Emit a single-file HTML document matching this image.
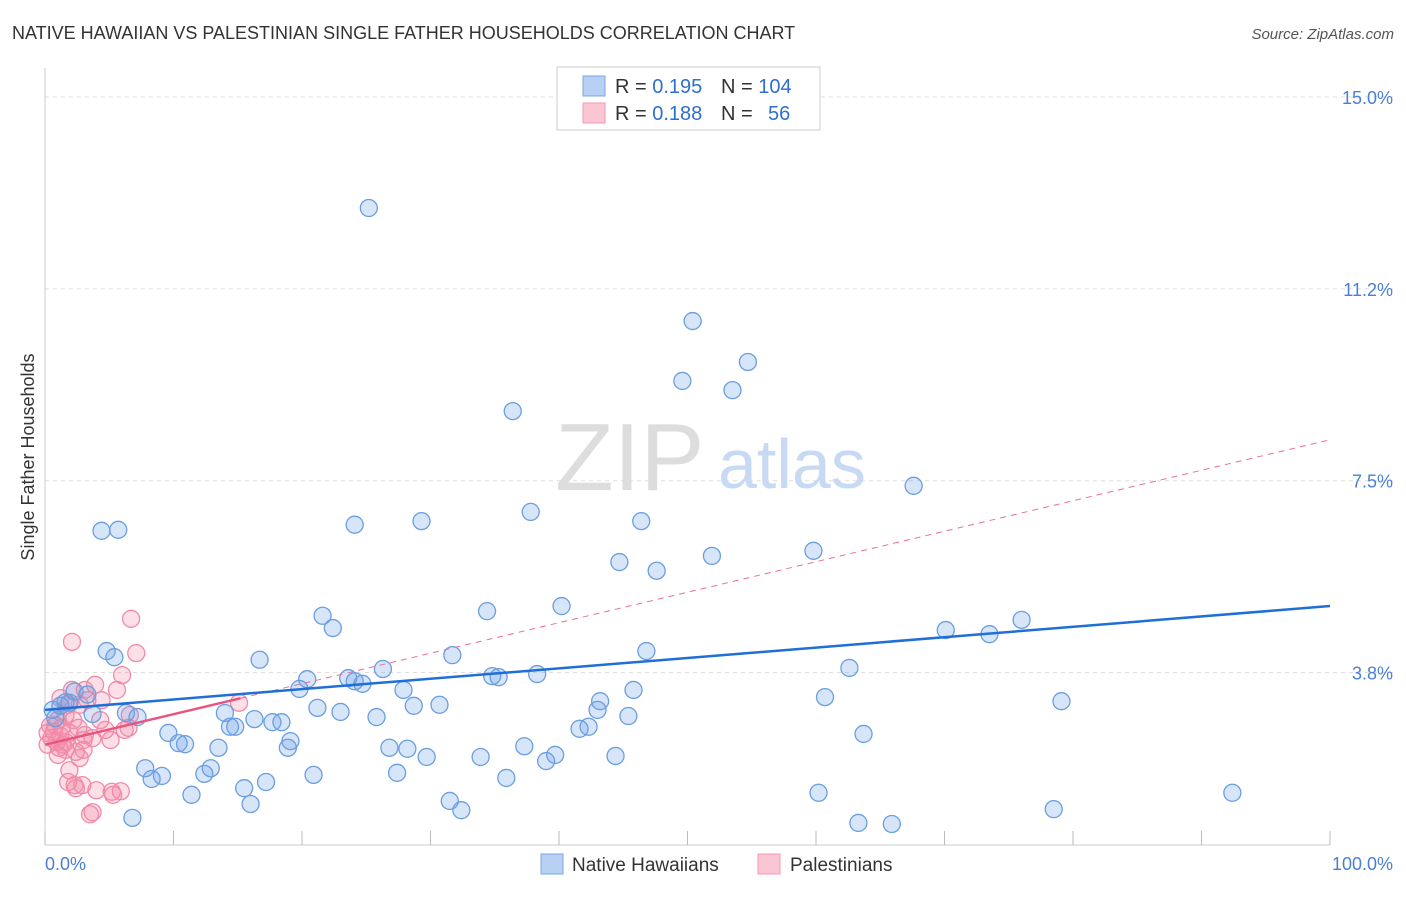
<!DOCTYPE html>
<html><head><meta charset="utf-8"><style>
body{margin:0;background:#fff;font-family:"Liberation Sans",sans-serif;}
svg text{font-family:"Liberation Sans",sans-serif;}
</style></head><body>
<svg id="chart" width="1406" height="892" viewBox="0 0 1406 892">
<text x="12" y="39" font-size="18" fill="#333">NATIVE HAWAIIAN VS PALESTINIAN SINGLE FATHER HOUSEHOLDS CORRELATION CHART</text>
<text x="1394" y="39" font-size="15" fill="#555" font-style="italic" text-anchor="end">Source: ZipAtlas.com</text>
<text transform="translate(34,457) rotate(-90)" font-size="18" fill="#333" text-anchor="middle">Single Father Households</text>
<g id="grid"></g>
<g><text x="555" y="490" font-size="96" fill="#ddd" font-family="Liberation Serif">ZIP</text><text x="718" y="488" font-size="70" fill="#c8daf3">atlas</text></g>
<line x1="45" y1="68" x2="45" y2="845" stroke="#ccc"/>
<line x1="45" y1="845" x2="1330" y2="845" stroke="#ccc"/>
<g id="xticks"></g>
<g id="ylabels"></g>
<text x="45" y="870" font-size="18" fill="#4a7fd4">0.0%</text>
<text x="1393" y="870" font-size="18" fill="#4a7fd4" text-anchor="end">100.0%</text>
<g id="pts"></g>
<g id="lines"></g>
<g>
<rect x="557" y="67" width="263" height="63" fill="#fff" stroke="#ccc"/>
<rect x="583" y="76" width="22" height="20" fill="#b8d0f4" stroke="#7ba5e3"/>
<rect x="583" y="103" width="22" height="20" fill="#fbc6d4" stroke="#f29ab4"/>
<text x="615" y="93" font-size="20" fill="#333">R = <tspan fill="#2f6fd0">0.195</tspan></text>
<text x="721" y="93" font-size="20" fill="#333">N = <tspan fill="#2f6fd0">104</tspan></text>
<text x="615" y="120" font-size="20" fill="#333">R = <tspan fill="#2f6fd0">0.188</tspan></text>
<text x="721" y="120" font-size="20" fill="#333">N = <tspan fill="#2f6fd0" x="768">56</tspan></text>
</g>
<g>
<rect x="541" y="854" width="22" height="20" fill="#b8d0f4" stroke="#7ba5e3"/>
<text x="572" y="871" font-size="19" fill="#333">Native Hawaiians</text>
<rect x="758" y="854" width="22" height="20" fill="#fbc6d4" stroke="#f29ab4"/>
<text x="790" y="871" font-size="19" fill="#333">Palestinians</text>
</g>
</svg>
<script>
const blueX=[25.2,50.4,54.7,49.6,53.5,36.4,67.6,4.4,5.7,24.1,29.3,37.8,46.4,51.9,59.8,44.7,47.6,40.2,34.4,21.6,22.4,70.1,73.5,76.0,4.8,5.4,16.7,31.7,46.8,62.6,26.3,20.4,23.6,24.1,24.7,19.8,27.9,34.8,35.3,38.3,45.8,60.7,79.1,43.2,43.0,45.4,28.7,30.7,21.2,23.0,25.8,14.0,16.3,17.7,18.4,14.4,14.8,41.6,42.3,9.6,63.7,37.3,10.4,10.9,13.5,19.1,18.9,26.8,28.2,29.7,33.9,39.0,39.7,44.4,7.8,8.3,9.1,12.4,12.9,20.9,27.4,35.9,15.5,17.2,11.4,16.0,31.5,32.4,60.2,92.4,78.5,63.3,65.9,6.8,0.6,1.2,1.9,2.3,3.3,3.7,6.3,7.2,1.6,0.8];
const blueY=[12.83,10.62,9.82,9.45,9.27,8.86,7.40,6.52,6.54,6.64,6.71,6.89,6.71,6.03,6.13,5.91,5.74,5.05,4.95,4.86,4.62,4.58,4.50,4.78,4.17,4.05,4.00,4.09,4.17,3.84,3.82,3.62,3.64,3.58,3.53,3.43,3.41,3.68,3.66,3.72,3.41,3.27,3.19,3.19,3.02,2.90,3.10,3.12,3.06,2.98,2.88,2.96,2.84,2.78,2.78,2.69,2.69,2.65,2.69,2.57,2.55,2.31,2.37,2.35,2.28,2.41,2.28,2.28,2.26,2.10,2.10,2.02,2.14,2.12,1.88,1.67,1.73,1.77,1.88,1.75,1.79,1.69,1.49,1.61,1.36,1.18,1.24,1.06,1.40,1.40,1.08,0.81,0.79,0.91,3.02,3.10,3.16,3.38,3.32,2.94,2.96,2.88,3.17,2.86];
const pinkX=[6.7,2.1,7.1,6.0,3.9,3.1,5.6,4.4,1.2,1.8,15.1,6.6,1.6,1.0,2.2,1.3,0.2,0.5,0.9,1.2,1.6,1.9,0.4,4.7,6.2,6.5,3.0,2.4,1.1,3.0,2.7,1.9,2.3,2.9,4.0,5.3,5.2,5.9,3.7,3.5,0.8,1.4,0.2,3.1,1.6,2.6,4.3,2.1,3.3,0.7,1.0,2.7,3.7,5.1,1.8,2.4];
const pinkY=[4.80,4.35,4.13,3.70,3.51,3.41,3.41,3.21,3.25,3.12,3.16,2.92,2.92,2.82,2.82,2.67,2.57,2.47,2.39,2.51,2.39,2.57,2.71,2.63,2.63,2.67,2.43,2.20,2.28,2.24,2.08,1.84,1.55,1.55,1.45,1.36,1.42,1.43,1.02,0.98,2.72,2.34,2.34,2.53,2.24,2.67,2.82,3.41,3.21,2.59,2.14,3.12,2.47,2.43,1.61,1.49];
const yTicks=[15,11.25,7.5,3.75];
const yTickLabels=["15.0%","11.2%","7.5%","3.8%"];
const xTicks=[0,10,20,30,40,50,60,70,80,90,100];
const blueTrend=[3.02,5.05];
const pinkTrend=[2.34,8.30];
const pinkSolidEnd=15.2;
const NS='http://www.w3.org/2000/svg';
const sx=v=>45+v*12.85, sy=v=>864.4-v*51.16;
function mk(t,a,p){const e=document.createElementNS(NS,t);for(const k in a)e.setAttribute(k,a[k]);p.appendChild(e);return e;}
const grid=document.getElementById('grid'),yl=document.getElementById('ylabels');
yTicks.forEach((v,i)=>{
 const l=mk('line',{x1:45,x2:1394,y1:sy(v),y2:sy(v),stroke:'#ddd','stroke-dasharray':'4,4'},grid);
 
 
 const t=mk('text',{x:1393,y:sy(v)+7,'font-size':18,fill:'#4a7fd4','text-anchor':'end'},yl);
 t.textContent=yTickLabels[i];
 
 
});
const xt=document.getElementById('xticks');
xTicks.forEach(v=>{
 const l=mk('line',{x1:sx(v),x2:sx(v),y1:831,y2:845,stroke:'#bbb'},xt);
 
 
});
const pts=document.getElementById('pts');
pinkX.forEach((x,i)=>{
 const c=mk('circle',{cx:sx(x),cy:sy(pinkY[i]),r:8.5,fill:'rgba(244,140,170,0.28)',stroke:'#f08aa8','stroke-width':1.3},pts);
 
 
});
blueX.forEach((x,i)=>{
 const c=mk('circle',{cx:sx(x),cy:sy(blueY[i]),r:8.5,fill:'rgba(110,160,230,0.28)',stroke:'#6a9ee0','stroke-width':1.3},pts);
 
 
});
const ln=document.getElementById('lines');
const pAt=x=>pinkTrend[0]+(pinkTrend[1]-pinkTrend[0])*x/100;
const d=mk('line',{x1:sx(pinkSolidEnd),y1:sy(pAt(pinkSolidEnd)),x2:sx(100),y2:sy(pinkTrend[1]),stroke:'#e8709a','stroke-width':1,'stroke-dasharray':'6,5'},ln);


const b=mk('line',{x1:sx(0),y1:sy(blueTrend[0]),x2:sx(100),y2:sy(blueTrend[1]),stroke:'#1f6fd6','stroke-width':2.5},ln);


const p=mk('line',{x1:sx(0),y1:sy(pinkTrend[0]),x2:sx(pinkSolidEnd),y2:sy(pAt(pinkSolidEnd)),stroke:'#e8557f','stroke-width':2.5},ln);


</script>
</body></html>
